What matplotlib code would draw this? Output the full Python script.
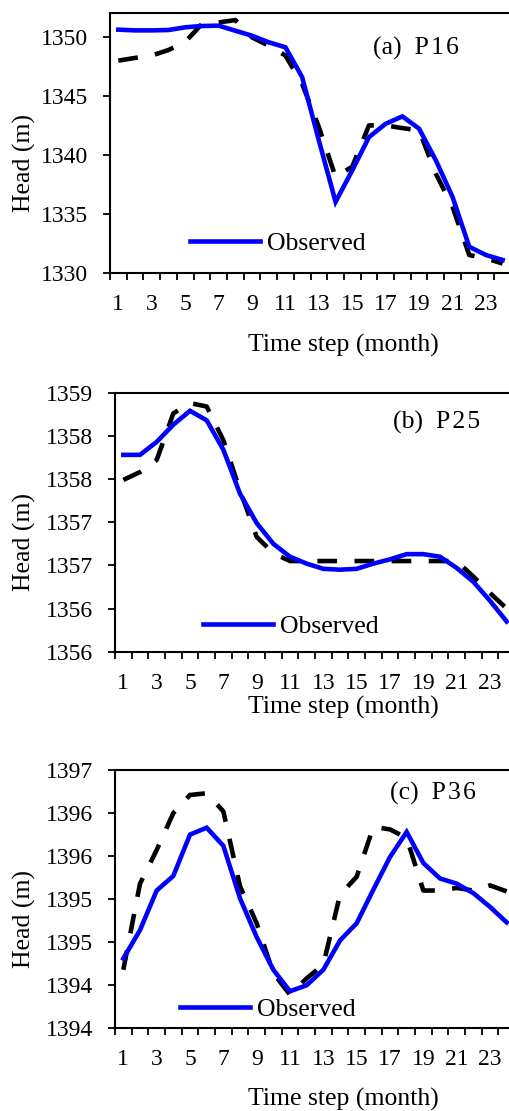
import matplotlib
matplotlib.use("Agg")
import matplotlib.pyplot as plt
from matplotlib.ticker import FixedLocator, FixedFormatter, MultipleLocator, NullFormatter

plt.rcParams['font.family'] = ['Liberation Serif', 'DejaVu Serif']

months = list(range(1, 25))

p16_obs = [1350.59, 1350.53, 1350.53, 1350.56, 1350.79, 1350.90, 1350.93, 1350.50,
           1350.08, 1349.52, 1349.10, 1346.57, 1341.22, 1336.02, 1338.69, 1341.50,
           1342.63, 1343.25, 1342.21, 1339.54, 1336.44, 1332.22, 1331.52, 1331.10]
p16_sim = [1347.97, 1348.20, 1348.40, 1348.87, 1349.55, 1351.07, 1351.20, 1351.40,
           1349.94, 1349.24, 1348.40, 1346.00, 1342.35, 1338.13, 1339.00, 1342.49,
           1342.49, 1342.26, 1342.07, 1338.41, 1335.60, 1331.52, 1331.24, 1330.80]

p25_obs = [1357.78, 1357.78, 1357.93, 1358.13, 1358.29, 1358.18, 1357.84, 1357.33,
           1356.99, 1356.75, 1356.60, 1356.52, 1356.46, 1356.45, 1356.46, 1356.52,
           1356.57, 1356.63, 1356.63, 1356.60, 1356.47, 1356.31, 1356.09, 1355.85]
p25_sim = [1357.49, 1357.58, 1357.72, 1358.26, 1358.38, 1358.34, 1357.95, 1357.37,
           1356.83, 1356.64, 1356.55, 1356.55, 1356.55, 1356.55, 1356.55, 1356.55,
           1356.55, 1356.55, 1356.55, 1356.55, 1356.55, 1356.37, 1356.18, 1356.00]

p36_obs = [1394.31, 1394.64, 1395.10, 1395.27, 1395.75, 1395.83, 1395.62, 1395.01,
           1394.56, 1394.18, 1393.93, 1394.00, 1394.18, 1394.52, 1394.72, 1395.11,
           1395.49, 1395.78, 1395.42, 1395.24, 1395.18, 1395.07, 1394.91, 1394.73]
p36_sim = [1394.18, 1395.18, 1395.57, 1396.00, 1396.21, 1396.23, 1396.02, 1395.15,
           1394.72, 1394.14, 1393.89, 1394.08, 1394.24, 1395.05, 1395.26, 1395.84,
           1395.81, 1395.71, 1395.10, 1395.10, 1395.13, 1395.10, 1395.16, 1395.09]

xtick_vals = list(range(1, 25, 2))
xtick_labels = [str(v) for v in xtick_vals]

p16_yticks = [1330, 1335, 1340, 1345, 1350]
p16_ylabels = ['1330', '1335', '1340', '1345', '1350']
p25_yticks = [1355.5, 1356.0, 1356.5, 1357.0, 1357.5, 1358.0, 1358.5]
p25_ylabels = ['1356', '1356', '1357', '1357', '1358', '1358', '1359']
p36_yticks = [1393.5, 1394.0, 1394.5, 1395.0, 1395.5, 1396.0, 1396.5]
p36_ylabels = ['1394', '1394', '1395', '1395', '1396', '1396', '1397']

titles = ['(a)  P\u200a1\u200a6', '(b)  P\u200a2\u200a5', '(c)  P\u200a3\u200a6']

W, H = 509, 1111
fig = plt.figure(figsize=(W / 100, H / 100), dpi=100)

def frac_rect(left_px, top_px, right_px, bottom_px):
    return [left_px / W, 1 - bottom_px / H, (right_px - left_px) / W, (bottom_px - top_px) / H]

panels = [
    dict(rect=frac_rect(110, 13, 511, 273), obs=p16_obs, sim=p16_sim, ylim=(1330, 1352),
         yt=p16_yticks, yl=p16_ylabels, title=titles[0], tpos=(0.764, 0.865),
         leg=(0.20, 0.115), xl=(0.581, -0.234), yl_pos=(-0.185, 0.425)),
    dict(rect=frac_rect(115, 392.7, 515, 651.7), obs=p25_obs, sim=p25_sim, ylim=(1355.5, 1358.5),
         yt=p25_yticks, yl=p25_ylabels, title=titles[1], tpos=(0.805, 0.887),
         leg=(0.22, 0.099), xl=(0.57, -0.17), yl_pos=(-0.197, 0.425)),
    dict(rect=frac_rect(115, 770, 515, 1028.3), obs=p36_obs, sim=p36_sim, ylim=(1393.5, 1396.5),
         yt=p36_yticks, yl=p36_ylabels, title=titles[2], tpos=(0.795, 0.911),
         leg=(0.163, 0.071), xl=(0.57, -0.232), yl_pos=(-0.197, 0.425)),
]

for p in panels:
    ax = fig.add_axes(p['rect'])
    ax.plot(months, p['sim'], color='black', lw=3.3, dashes=(4.3, 3.8),
            dash_capstyle='butt', label='_nolegend_', zorder=2)
    ax.plot(months, p['obs'], color='#0000FF', lw=3.3, label='Observed',
            solid_joinstyle='miter', zorder=3)
    ax.set_xlim(0.5, 24.5)
    ax.set_ylim(*p['ylim'])
    ax.xaxis.set_major_locator(FixedLocator(xtick_vals))
    ax.xaxis.set_major_formatter(FixedFormatter(xtick_labels))
    ax.xaxis.set_minor_locator(MultipleLocator(1, offset=0.5))
    ax.xaxis.set_minor_formatter(NullFormatter())
    ax.tick_params(axis='x', which='major', length=0, pad=15, labelsize=17)
    ax.tick_params(axis='x', which='minor', length=5, width=1.3, direction='out')
    ax.yaxis.set_major_locator(FixedLocator(p['yt']))
    ax.yaxis.set_major_formatter(FixedFormatter(p['yl']))
    ax.tick_params(axis='y', which='major', length=5, width=1.3, direction='out', pad=11, labelsize=17)
    for s in ax.spines.values():
        s.set_linewidth(1.5)
    ax.set_ylabel('Head (m)', fontsize=18.5)
    ax.yaxis.set_label_coords(*p['yl_pos'])
    ax.set_xlabel('Time step (month)', fontsize=18.5)
    ax.xaxis.set_label_coords(*p['xl'])
    ax.text(p['tpos'][0], p['tpos'][1], p['title'], transform=ax.transAxes,
            ha='center', va='center', fontsize=18.5)
    ax.legend(loc='center left', bbox_to_anchor=p['leg'], frameon=False, fontsize=18.5,
              handlelength=2.72, handletextpad=0.27, borderpad=0, borderaxespad=0)

fig.savefig('out.png', dpi=100)
